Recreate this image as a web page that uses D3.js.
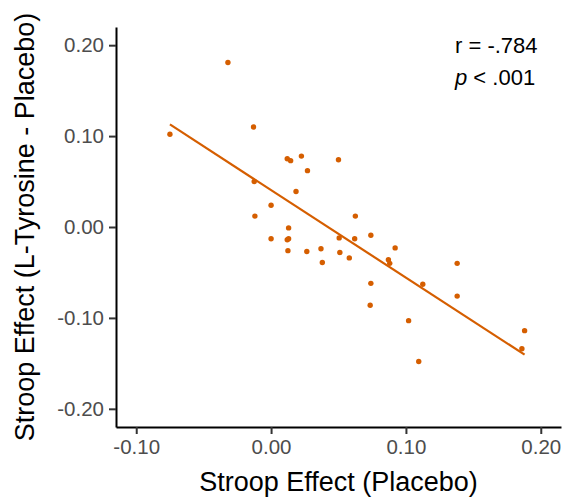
<!DOCTYPE html>
<html lang="en">
<head>
<meta charset="UTF-8">
<title>Stroop Effect scatter</title>
<script src="https://cdn.jsdelivr.net/npm/d3@7"></script>
<style>
  body { margin: 0; background: #fff; }
  text { font-family: "Liberation Sans", Arial, sans-serif; }
</style>
</head>
<body>
<div id="chart"></div>
<script>
// Stroop effect under placebo (x) vs difference L-Tyrosine - Placebo (y)
const placebo = [-0.075, -0.032, -0.013, -0.0125, -0.012, 0.000, 0.012, 0.0145, 0.0225, 0.027,
  0.0185, 0.013, 0.000, 0.012, 0.013, 0.050, 0.0625, 0.0505, 0.062, 0.074,
  0.0125, 0.0265, 0.037, 0.051, 0.038, 0.058, 0.092, 0.087, 0.088, 0.074,
  0.1125, 0.138, 0.0735, 0.138, 0.102, 0.188, 0.186, 0.1095];
const diff = [0.102, 0.181, 0.110, 0.050, 0.012, 0.024, 0.075, 0.073, 0.078, 0.062,
  0.039, -0.001, -0.013, -0.014, -0.013, 0.074, 0.012, -0.012, -0.013, -0.009,
  -0.026, -0.027, -0.024, -0.028, -0.039, -0.034, -0.023, -0.036, -0.040, -0.062,
  -0.063, -0.040, -0.086, -0.076, -0.103, -0.114, -0.134, -0.148];
const xTicks = [-0.10, 0.00, 0.10, 0.20];
const yTicks = [-0.20, -0.10, 0.00, 0.10, 0.20];
const statLines = ["r = -.784", "p < .001"];

const width = 565, height = 501;
const color = "#D55E00";

const svg = d3.select("#chart").append("svg")
  .attr("width", width)
  .attr("height", height);

const x = d3.scaleLinear().domain([-0.115, 0.215]).range([116, 561]);
const y = d3.scaleLinear().domain([-0.22, 0.22]).range([427, 27]);

const fmt = d => d.toFixed(2);

const xAxis = svg.append("g")
  .attr("transform", `translate(0,${y.range()[0]})`)
  .call(d3.axisBottom(x).tickValues(xTicks).tickFormat(fmt).tickSize(7).tickSizeOuter(0).tickPadding(5));
const yAxis = svg.append("g")
  .attr("transform", `translate(${x.range()[0]},0)`)
  .call(d3.axisLeft(y).tickValues(yTicks).tickFormat(fmt).tickSize(7).tickSizeOuter(0).tickPadding(5));

[xAxis, yAxis].forEach(g => {
  g.select(".domain").attr("stroke", "#000").attr("stroke-width", 2);
  g.selectAll(".tick line").attr("stroke", "#333").attr("stroke-width", 2);
  g.selectAll(".tick text").attr("fill", "#4D4D4D").style("font-size", "20.5px")
    .style("font-family", "'Liberation Sans', Arial, sans-serif");
});

// least squares fit, drawn over the range of the data
const pts = placebo.map((v, i) => [v, diff[i]]);
const mx = d3.mean(placebo), my = d3.mean(diff);
const slope = d3.sum(pts, p => (p[0] - mx) * (p[1] - my)) / d3.sum(pts, p => (p[0] - mx) ** 2);
const icpt = my - slope * mx;
const ext = d3.extent(placebo);
svg.append("path")
  .attr("d", d3.line()(ext.map(v => [x(v), y(icpt + slope * v)])))
  .attr("stroke", color)
  .attr("stroke-width", 2.2)
  .attr("fill", "none");

svg.append("g").selectAll("circle")
  .data(pts)
  .enter().append("circle")
  .attr("cx", d => x(d[0]))
  .attr("cy", d => y(d[1]))
  .attr("r", 2.7)
  .attr("fill", color);

// stats annotation
const stat = svg.append("g").style("font-size", "22px").attr("fill", "#000");
stat.append("text").attr("x", 455).attr("y", 53).text(statLines[0]);
const pt = stat.append("text").attr("x", 455).attr("y", 85);
pt.append("tspan").style("font-style", "italic").text(statLines[1].slice(0, 1));
pt.append("tspan").text(statLines[1].slice(1));

// axis titles
svg.append("text")
  .attr("x", (x.range()[0] + x.range()[1]) / 2)
  .attr("y", 491)
  .attr("text-anchor", "middle")
  .style("font-size", "27px")
  .text("Stroop Effect (Placebo)");
svg.append("text")
  .attr("transform", `translate(34,${(y.range()[0] + y.range()[1]) / 2}) rotate(-90)`)
  .attr("text-anchor", "middle")
  .style("font-size", "27px")
  .text("Stroop Effect (L-Tyrosine - Placebo)");
</script>
</body>
</html>
